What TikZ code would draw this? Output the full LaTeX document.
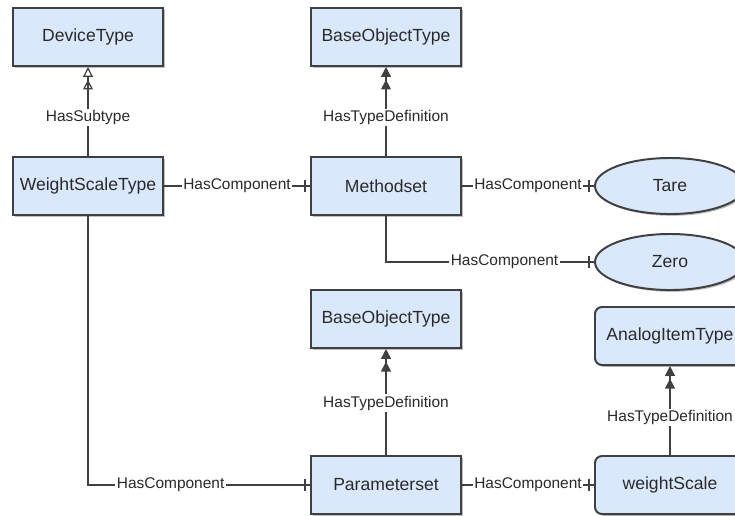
\documentclass[tikz,border=0pt]{standalone}
\usepackage{fontspec}
\setmainfont{Liberation Sans}
\usetikzlibrary{arrows.meta,shapes.geometric,shadows,decorations.markings}
\definecolor{boxfill}{HTML}{DAE8FC}
\definecolor{boxline}{HTML}{404040}
\definecolor{txtgray}{HTML}{2A2A2A}
\begin{document}
\begin{tikzpicture}[x=0.025cm,y=-0.025cm,
  typebox/.style={draw=boxline, line width=1.4pt, fill=boxfill, rectangle, minimum width=3.75cm, minimum height=1.45cm, text=txtgray, font=\fontsize{12.5}{14}\selectfont, drop shadow={shadow xshift=1.3pt, shadow yshift=-1.3pt, fill=black, opacity=0.25}},
  varbox/.style={typebox, rounded corners=5pt},
  methnode/.style={typebox, ellipse, minimum width=3.75cm, minimum height=1.4cm},
  rel/.style={draw=boxline, line width=0.9pt},
  lbl/.style={fill=white, inner sep=1pt, text=txtgray, font=\fontsize{11}{12}\selectfont},
  subtype/.style={rel, -{Triangle[open,length=7pt,width=7pt,sep=2pt] Triangle[open,length=7pt,width=7pt]}},
  typedef/.style={rel, -{Triangle[length=7pt,width=7pt,sep=2pt] Triangle[length=7pt,width=7pt]}},
  comp/.style={rel, postaction={decorate}, decoration={markings, mark=at position -3.5pt with {\draw[boxline, line width=0.9pt] (0,-4pt) -- (0,4pt);}}}
]
\useasboundingbox (0,0) rectangle (735,515);

\node[typebox] (dev) at (88,37) {DeviceType};
\node[typebox] (wst) at (88,186) {WeightScaleType};
\node[typebox] (bot1) at (386,37) {BaseObjectType};
\node[typebox] (meth) at (386,186) {Methodset};
\node[methnode] (tare) at (670,186) {Tare};
\node[methnode] (zero) at (670,262) {Zero};
\node[typebox] (bot2) at (386,319) {BaseObjectType};
\node[varbox] (ait) at (670,336) {AnalogItemType};
\node[typebox] (pset) at (386,485) {Parameterset};
\node[varbox] (wscale) at (670,485) {weightScale};

\draw[subtype] (wst) -- node[lbl, pos=0.43] {HasSubtype} (dev);
\draw[typedef] (meth) -- node[lbl, pos=0.43] {HasTypeDefinition} (bot1);
\draw[typedef] (pset) -- node[lbl, pos=0.49] {HasTypeDefinition} (bot2);
\draw[typedef] (wscale) -- node[lbl, pos=0.42] {HasTypeDefinition} (ait);

\draw[comp] (wst) -- node[lbl] {HasComponent} (meth);
\draw[comp] (meth) -- node[lbl] {HasComponent} (tare);
\draw[comp] (meth.south) |- node[lbl, pos=0.785] {HasComponent} (zero.west);
\draw[comp] (wst.south) |- node[lbl, pos=0.686] {HasComponent} (pset.west);
\draw[comp] (pset) -- node[lbl] {HasComponent} (wscale);
\end{tikzpicture}
\end{document}
